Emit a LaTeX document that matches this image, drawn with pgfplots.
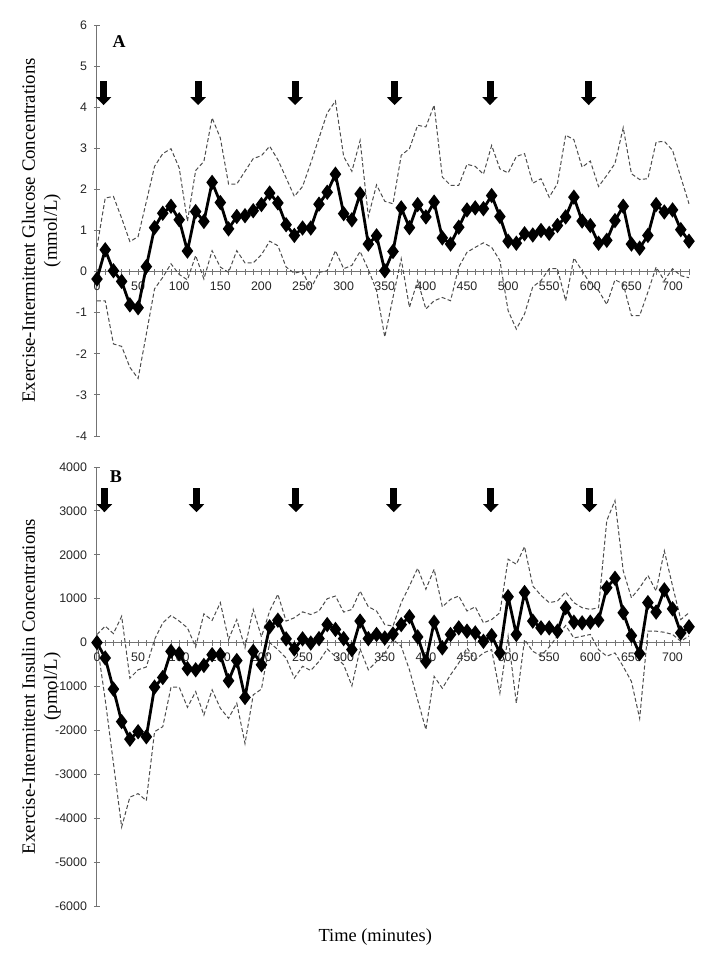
\documentclass[border=0pt]{standalone}
\usepackage{fontspec}
\setmainfont{Liberation Serif}
\newfontfamily\tickfam{Liberation Sans}
\usepackage{pgfplots}
\usepackage{pgfplotstable}
\pgfplotsset{compat=1.18}
\usetikzlibrary{arrows.meta}

\pgfplotstableread{
t m u l
0 -0.18 0.60 -0.71
10 0.53 1.79 -0.71
20 0.02 1.83 -1.76
30 -0.24 1.30 -1.82
40 -0.81 0.73 -2.33
50 -0.88 0.85 -2.60
60 0.12 1.70 -1.52
70 1.07 2.56 -0.42
80 1.42 2.87 -0.14
90 1.59 2.99 0.19
100 1.26 2.52 -0.07
110 0.50 1.22 -0.20
120 1.46 2.46 0.39
130 1.22 2.68 -0.18
140 2.17 3.74 0.51
150 1.68 3.25 0.11
160 1.04 2.13 -0.02
170 1.34 2.13 0.51
180 1.36 2.44 0.21
190 1.48 2.75 0.21
200 1.63 2.82 0.41
210 1.91 3.05 0.74
220 1.67 2.72 0.63
230 1.14 2.28 0.11
240 0.88 1.83 -0.04
250 1.06 2.07 0.01
260 1.06 2.64 -0.42
270 1.64 3.25 -0.02
280 1.93 3.86 0.02
290 2.37 4.15 0.51
300 1.41 2.80 0.07
310 1.26 2.44 0.15
320 1.89 3.19 0.49
330 0.67 1.34 0.05
340 0.87 2.11 -0.46
350 0.02 1.71 -1.59
360 0.49 1.65 -0.63
370 1.55 2.83 0.31
380 1.07 2.99 -0.87
390 1.63 3.56 -0.22
400 1.33 3.52 -0.91
410 1.69 4.05 -0.71
420 0.82 2.30 -0.63
430 0.67 2.10 -0.71
440 1.08 2.10 0.11
450 1.50 2.61 0.47
460 1.55 2.56 0.59
470 1.53 2.37 0.70
480 1.85 3.07 0.59
490 1.34 2.50 0.27
500 0.74 2.40 -0.95
510 0.69 2.80 -1.40
520 0.92 2.87 -1.03
530 0.89 2.15 -0.37
540 1.00 2.26 -0.22
550 0.93 1.81 0.07
560 1.12 2.14 0.07
570 1.33 3.32 -0.71
580 1.81 3.21 0.33
590 1.23 2.54 0.02
600 1.12 2.69 -0.30
610 0.69 2.07 -0.46
620 0.76 2.34 -0.80
630 1.24 2.63 -0.20
640 1.59 3.50 -0.30
650 0.67 2.38 -1.07
660 0.57 2.24 -1.07
670 0.88 2.26 -0.50
680 1.63 3.15 0.11
690 1.45 3.17 -0.22
700 1.50 2.95 0.07
710 1.02 2.30 -0.10
720 0.74 1.65 -0.15
}\dataA

\pgfplotstableread{
t m u l
0 0 185 0
10 -350 375 -1300
20 -1060 205 -2750
30 -1800 600 -4200
40 -2200 -810 -3520
50 -2030 -620 -3440
60 -2145 -555 -3600
70 -1015 70 -2030
80 -795 450 -1915
90 -200 620 -1015
100 -250 490 -1015
110 -595 335 -1475
120 -620 -100 -1115
130 -520 655 -1650
140 -275 505 -1075
150 -275 910 -1495
160 -870 70 -1725
170 -410 525 -1380
180 -1250 -120 -2300
190 -200 755 -1190
200 -505 130 -1060
210 360 720 0
220 510 1100 -160
230 85 490 -350
240 -145 565 -810
250 85 700 -540
260 -10 640 -635
270 90 720 -430
280 410 1000 -145
290 300 1060 -315
300 90 695 -505
310 -160 755 -985
320 490 1175 -145
330 90 815 -620
340 185 720 -430
350 105 410 -240
360 195 375 70
370 410 910 -85
380 590 1290 -620
390 130 1695 -1305
400 -430 1215 -1980
410 465 1670 -770
420 -120 815 -1040
430 185 985 -735
440 335 1060 -465
450 260 720 -120
460 220 815 -390
470 30 450 -235
480 160 525 -160
490 -235 680 -1150
500 1045 1900 145
510 185 1785 -1380
520 1140 2185 70
530 490 1290 -200
540 335 1075 -300
550 335 910 -100
560 260 945 150
570 795 1150 390
580 465 910 105
590 450 795 145
600 465 755 185
610 510 795 -160
620 1250 2780 -310
630 1465 3235 -235
640 680 1635 -545
650 160 1020 -885
660 -250 1250 -1730
670 910 1530 260
680 695 1175 260
690 1200 2090 235
700 770 1290 185
710 220 525 30
720 360 680 150
}\dataB

\tikzset{arr/.style={line width=3.5pt, -{Triangle[width=7.5pt,length=4pt]}}}
\pgfplotsset{
  myaxis/.style={
    scale only axis, width=296pt,
    xmin=0, xmax=720,
    axis x line=middle, axis y line=left,
    axis line style={-, draw=black!55, line width=0.5pt},
    xtick={0,50,...,700}, minor xtick={0,10,...,720},
    hide obscured x ticks=false,
    tick align=center,
    major tick length=3pt, minor tick length=3pt,
    every tick/.style={draw=black!55, line width=0.4pt},
    tick label style={font=\tickfam\fontsize{6.2}{7}\selectfont, text=black!85},
    /pgf/number format/assume math mode=true,
    /pgf/number format/1000 sep={},
    scaled y ticks=false,
    clip=false,
    ylabel style={at={(axis description cs:-0.094,0.5)}, anchor=center, align=center, font=\fontsize{9.4}{11}\selectfont},
  },
  meanline/.style={black, line width=1.4pt, mark=diamond*, mark size=2.7pt, mark options={solid}},
  ciline/.style={black!70, line width=0.5pt, dash pattern=on 2pt off 1.2pt},
}

\begin{document}
\begin{tikzpicture}
\begin{axis}[myaxis, name=A, height=205.5pt,
  ymin=-4, ymax=6, ytick={-4,-3,...,6},
  ylabel={Exercise-Intermittent Glucose Concentrations\\(mmol/L)}]
\addplot[ciline] table[x=t,y=u]{\dataA};
\addplot[ciline] table[x=t,y=l]{\dataA};
\addplot[meanline] table[x=t,y=m]{\dataA};
\draw[arr] (axis cs:8,4.63) -- (axis cs:8,4.05);
\draw[arr] (axis cs:123,4.63) -- (axis cs:123,4.05);
\draw[arr] (axis cs:241,4.63) -- (axis cs:241,4.05);
\draw[arr] (axis cs:362,4.63) -- (axis cs:362,4.05);
\draw[arr] (axis cs:478,4.63) -- (axis cs:478,4.05);
\draw[arr] (axis cs:598,4.63) -- (axis cs:598,4.05);
\node[font=\bfseries\fontsize{9}{9}\selectfont] at (axis cs:27,5.6) {A};
\end{axis}
\begin{axis}[myaxis, name=B, height=219.5pt, at={(0,-15.5pt)}, anchor=north west,
  ymin=-6000, ymax=4000, ytick={-6000,-5000,...,4000},
  ylabel={Exercise-Intermittent Insulin Concentrations\\(pmol/L)},
  xlabel={Time (minutes)},
  xlabel style={at={(axis description cs:0.47,0)}, anchor=north, yshift=-8pt, font=\fontsize{9.2}{10}\selectfont}]
\addplot[ciline] table[x=t,y=u]{\dataB};
\addplot[ciline] table[x=t,y=l]{\dataB};
\addplot[meanline] table[x=t,y=m]{\dataB};
\draw[arr] (axis cs:9,3520) -- (axis cs:9,2970);
\draw[arr] (axis cs:121,3520) -- (axis cs:121,2970);
\draw[arr] (axis cs:242,3520) -- (axis cs:242,2970);
\draw[arr] (axis cs:361,3520) -- (axis cs:361,2970);
\draw[arr] (axis cs:479,3520) -- (axis cs:479,2970);
\draw[arr] (axis cs:599,3520) -- (axis cs:599,2970);
\node[font=\bfseries\fontsize{9}{9}\selectfont] at (axis cs:23,3790) {B};
\end{axis}
\path (-48.5pt,218pt) rectangle (308.5pt,-263pt);
\end{tikzpicture}
\end{document}
